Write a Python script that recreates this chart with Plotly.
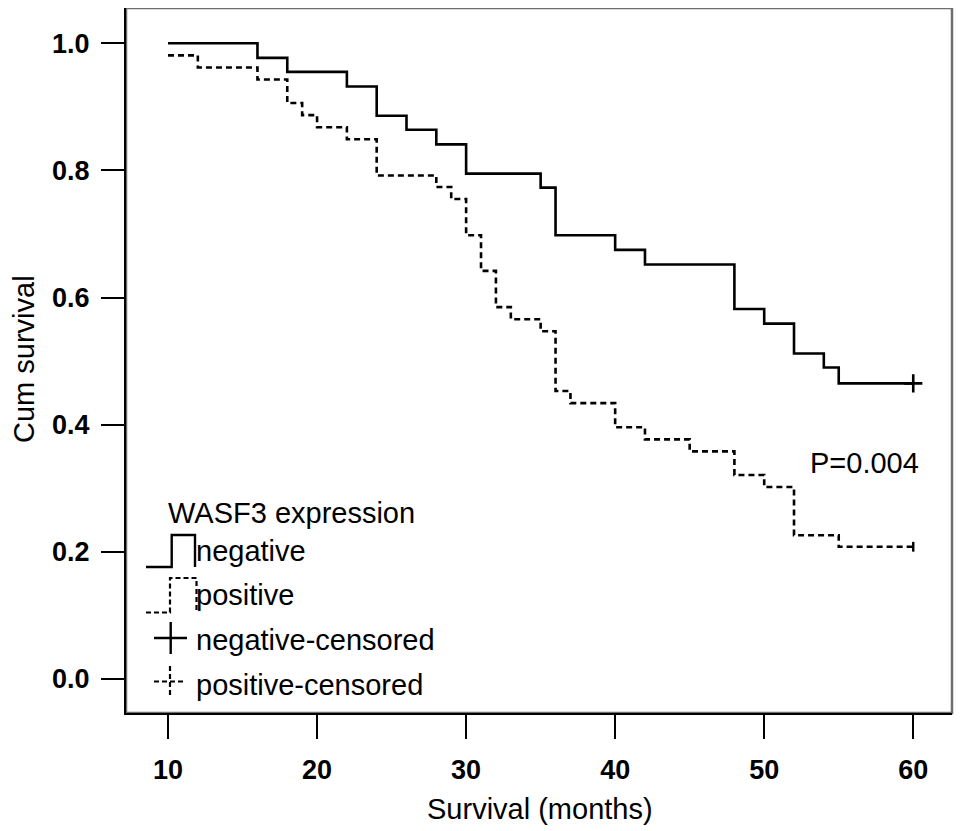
import plotly.graph_objects as go

# ---- data ----
neg_times = [10, 16, 18, 22, 24, 26, 28, 30, 35, 36, 40, 42, 48, 50, 52, 54, 55]
neg_surv = [1.0, 0.977, 0.955, 0.932, 0.886, 0.864, 0.841, 0.795, 0.773, 0.698,
            0.675, 0.652, 0.582, 0.559, 0.512, 0.490, 0.465]
pos_times = [10, 12, 16, 18, 19, 20, 22, 24, 28, 29, 30, 31, 32, 33, 35, 36, 37,
             40, 42, 45, 48, 50, 52, 55]
pos_surv = [0.981, 0.962, 0.943, 0.906, 0.887, 0.868, 0.849, 0.792, 0.774, 0.755,
            0.698, 0.642, 0.585, 0.566, 0.547, 0.453, 0.434, 0.396, 0.377, 0.358,
            0.321, 0.302, 0.226, 0.208]
end_time = 60
x_ticks = [10, 20, 30, 40, 50, 60]
y_ticks = [0.0, 0.2, 0.4, 0.6, 0.8, 1.0]
legend_title = "WASF3 expression"
legend_labels = ["negative", "positive", "negative-censored", "positive-censored"]
p_text = "P=0.004"

OFF = 8                         # page body margin
W, H = 969 - OFF, 831 - OFF     # figure size
L, R, T, B = 126, 952, 8, 713   # plot area in page pixels
PW, PH = R - L, B - T


def px(x):
    return (x - L) / PW


def py(y):
    return (B - y) / PH


FONT = "Liberation Sans, Arial, sans-serif"

fig = go.Figure()
fig.add_trace(go.Scatter(
    x=neg_times + [end_time], y=neg_surv + [neg_surv[-1]],
    mode="lines", line=dict(shape="hv", color="black", width=2.6),
    showlegend=False, hoverinfo="skip"))
fig.add_trace(go.Scatter(
    x=pos_times + [end_time], y=pos_surv + [pos_surv[-1]],
    mode="lines", line=dict(shape="hv", color="black", width=2.6, dash="6px,4px"),
    showlegend=False, hoverinfo="skip"))
# censored markers
fig.add_trace(go.Scatter(
    x=[end_time], y=[neg_surv[-1]], mode="markers",
    marker=dict(symbol="cross-thin", size=13, line=dict(color="black", width=2.6)),
    showlegend=False, hoverinfo="skip"))
fig.add_trace(go.Scatter(
    x=[end_time], y=[pos_surv[-1]], mode="markers",
    marker=dict(symbol="line-ns", size=7, line=dict(color="black", width=2.4)),
    showlegend=False, hoverinfo="skip"))

shapes = []
# frame
shapes.append(dict(type="rect", xref="paper", yref="paper", x0=0, y0=0, x1=1, y1=1,
                   line=dict(color="#6e6e6e", width=2.5), layer="below"))


def path(points):
    return "M " + " L ".join(f"{px(a):.5f},{py(b):.5f}" for a, b in points)


# legend symbols
shapes.append(dict(type="path", xref="paper", yref="paper",
                   path=path([(146, 567), (171.7, 567), (171.7, 535), (195, 535), (195, 567)]),
                   line=dict(color="black", width=2.4)))
shapes.append(dict(type="path", xref="paper", yref="paper",
                   path=path([(146, 612.5), (170, 612.5), (170, 578), (196.5, 578), (196.5, 612.5)]),
                   line=dict(color="black", width=2.2, dash="5px,3px")))
shapes.append(dict(type="line", xref="paper", yref="paper",
                   x0=px(154), x1=px(187), y0=py(638), y1=py(638),
                   line=dict(color="black", width=2.4)))
shapes.append(dict(type="line", xref="paper", yref="paper",
                   x0=px(170.7), x1=px(170.7), y0=py(622), y1=py(654),
                   line=dict(color="black", width=2.4)))
shapes.append(dict(type="line", xref="paper", yref="paper",
                   x0=px(154), x1=px(183), y0=py(681.5), y1=py(681.5),
                   line=dict(color="black", width=2.2, dash="5px,3px")))
shapes.append(dict(type="line", xref="paper", yref="paper",
                   x0=px(170), x1=px(170), y0=py(666), y1=py(696),
                   line=dict(color="black", width=2.2, dash="5px,3px")))

annotations = []
txt_font = dict(family=FONT, size=29, color="black")
annotations.append(dict(xref="paper", yref="paper", x=px(166), y=py(513),
                        xanchor="left", yanchor="middle", text=legend_title,
                        showarrow=False, font=txt_font))
for lab, yy in zip(legend_labels, [551, 595, 640, 685]):
    annotations.append(dict(xref="paper", yref="paper", x=px(194), y=py(yy),
                            xanchor="left", yanchor="middle", text=lab,
                            showarrow=False, font=txt_font))
annotations.append(dict(xref="paper", yref="paper", x=px(921), y=py(463),
                        xanchor="right", yanchor="middle", text=p_text,
                        showarrow=False, font=txt_font))
# axis titles
annotations.append(dict(xref="paper", yref="paper", x=px(540), y=py(809),
                        xanchor="center", yanchor="middle", text="Survival (months)",
                        showarrow=False, font=dict(family=FONT, size=29, color="black")))
annotations.append(dict(xref="paper", yref="paper", x=px(24), y=py(359),
                        xanchor="center", yanchor="middle", text="Cum survival",
                        textangle=-90, showarrow=False,
                        font=dict(family=FONT, size=29, color="black")))

fig.update_layout(
    width=W, height=H,
    margin=dict(l=L - OFF, r=W - (R - OFF), t=T - OFF, b=H - (B - OFF), pad=0),
    paper_bgcolor="white", plot_bgcolor="white",
    shapes=shapes, annotations=annotations,
    showlegend=False,
    xaxis=dict(range=[7.18, 62.6], tickvals=x_ticks, ticktext=[str(v) for v in x_ticks],
               showgrid=False, zeroline=False, showline=True, linecolor="black",
               linewidth=2, ticks="outside", ticklen=24, tickwidth=2, tickcolor="black",
               ticklabelstandoff=8,
               tickfont=dict(family=FONT, size=27, color="black", weight="bold")),
    yaxis=dict(range=[-0.0535, 1.0555], tickvals=y_ticks,
               ticktext=[f"{v:.1f}" for v in y_ticks],
               showgrid=False, zeroline=False, showline=True, linecolor="black",
               linewidth=2, ticks="outside", ticklen=23, tickwidth=2, tickcolor="black",
               ticklabelstandoff=6,
               tickfont=dict(family=FONT, size=27, color="black", weight="bold")),
)

fig.write_html("out.html")
